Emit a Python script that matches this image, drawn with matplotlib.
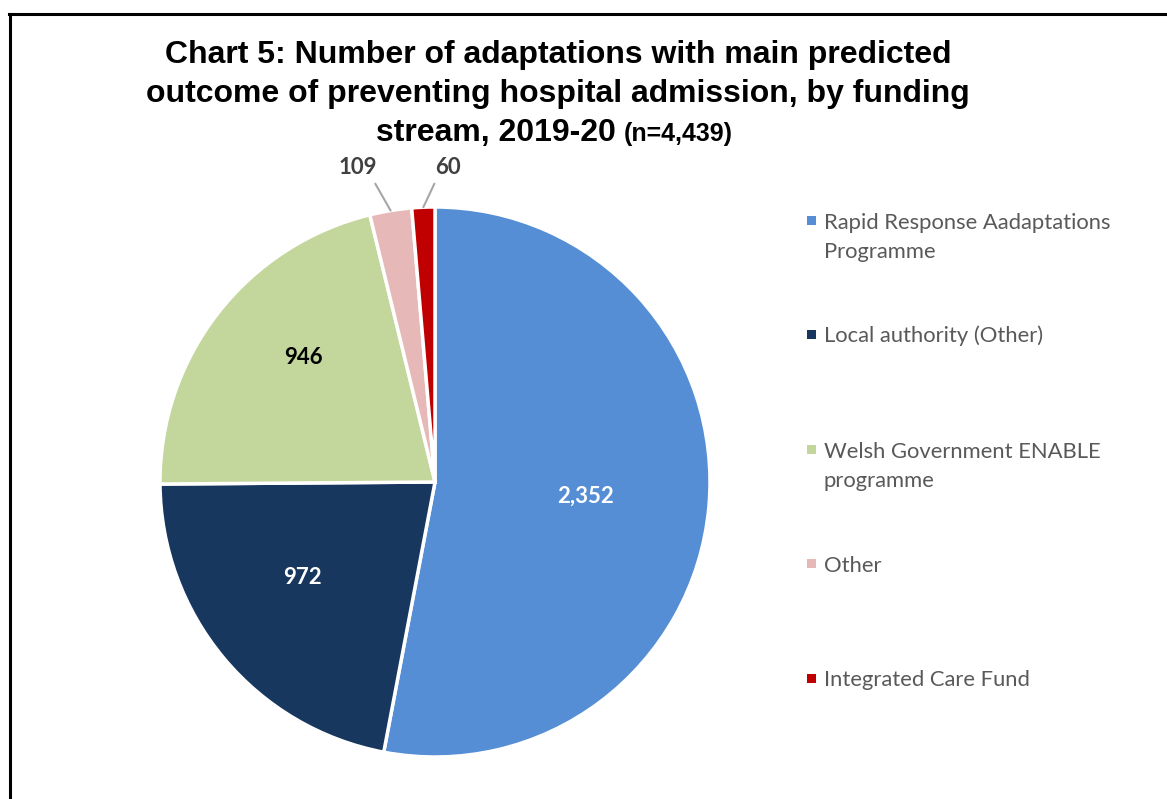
import numpy as np
import matplotlib
matplotlib.use("Agg")
import matplotlib.pyplot as plt
from matplotlib.patches import Rectangle
from matplotlib.lines import Line2D

categories = ["Rapid Response Aadaptations\nProgramme", "Local authority (Other)",
              "Welsh Government ENABLE\nprogramme", "Other", "Integrated Care Fund"]
values = [2352, 972, 946, 109, 60]
value_labels = ["2,352", "972", "946", "109", "60"]
colors = ["#558ED5", "#17375E", "#C3D69B", "#E6B9B8", "#C00000"]
label_colors = ["white", "white", "black", "#404040", "#404040"]

W, H = 1167, 799
fig = plt.figure(figsize=(W / 100, H / 100), dpi=100)

def fx(px):
    return px / W

def fy(py):
    return 1 - py / H

# Border (cropped frame)
fig.add_artist(Line2D([fx(10), fx(10)], [fy(14), 0], transform=fig.transFigure, color="black", lw=2.2))
fig.add_artist(Line2D([fx(9), 1], [fy(14), fy(14)], transform=fig.transFigure, color="black", lw=2.2))

# Pie
cx, cy, R = 435, 482, 275
ax = fig.add_axes([fx(cx - R), fy(cy + R), (2 * R) / W, (2 * R) / H])
wedges, _ = ax.pie(values, colors=colors, startangle=90, counterclock=False, radius=1,
                   wedgeprops=dict(edgecolor="white", linewidth=2.5))
ax.set_xlim(-1, 1)
ax.set_ylim(-1, 1)
ax.set_aspect("equal")
ax.axis("off")

total = sum(values)
cum = np.cumsum([0] + values)
label_r = [0.55, 0.595, 0.66]
label_shift = [0, -4, -5.5]
lab_font = "Lato"
for i, v in enumerate(values):
    mid = 90 - 360 * (cum[i] + v / 2) / total
    if i < 3:
        a = np.deg2rad(mid + label_shift[i])
        r = label_r[i]
        ax.text(r * np.cos(a), r * np.sin(a), value_labels[i], ha="center", va="center",
                fontsize=16, fontweight="bold", color=label_colors[i], family=lab_font)
    else:
        a = np.deg2rad(mid)
        ex, ey = np.cos(a), np.sin(a)
        tx = ex + (-0.12 if i == 3 else 0.09)
        ty = 1.142
        ax.annotate(value_labels[i], xy=(ex, ey), xytext=(tx, ty),
                    ha="center", va="center", fontsize=16, fontweight="bold",
                    color=label_colors[i], family=lab_font, annotation_clip=False,
                    arrowprops=dict(arrowstyle="-", color="#A6A6A6", lw=1.5,
                                    shrinkA=2, shrinkB=0,
                                    relpos=(0.85, 0.1) if i == 3 else (0.1, 0.1)))

# Title
title_lines = ["Chart 5: Number of adaptations with main predicted",
               "outcome of preventing hospital admission, by funding"]
for line, by in zip(title_lines, [63, 102]):
    fig.text(fx(558), fy(by), line, ha="center", va="baseline", fontsize=23,
             fontweight="bold", family="Liberation Sans")
fig.canvas.draw()
rend = fig.canvas.get_renderer()
t1 = fig.text(0, fy(141), "stream, 2019-20 ", ha="left", va="baseline", fontsize=23,
              fontweight="bold", family="Liberation Sans")
t2 = fig.text(0, fy(141), "(n=4,439)", ha="left", va="baseline", fontsize=18,
              fontweight="bold", family="Liberation Sans")
w1 = t1.get_window_extent(rend).width
w2 = t2.get_window_extent(rend).width
start = 376
t1.set_x(fx(start))
t2.set_x(fx(start + w1 - 1))

# Legend (manual)
leg_base = 228
step = 114.5
line_gap = 30
for i, (cat, col) in enumerate(zip(categories, colors)):
    b = leg_base + i * step
    nextra = cat.count("\n")
    fig.add_artist(Rectangle((fx(807), fy(b - 3.5)), 9 / W, 9 / H, transform=fig.transFigure,
                             facecolor=col, edgecolor="none"))
    fig.text(fx(824), fy(b + nextra * line_gap), cat, ha="left", va="baseline",
             fontsize=15.8, color="#595959", family=lab_font, linespacing=1.55)

fig.savefig("out.png", dpi=100)
